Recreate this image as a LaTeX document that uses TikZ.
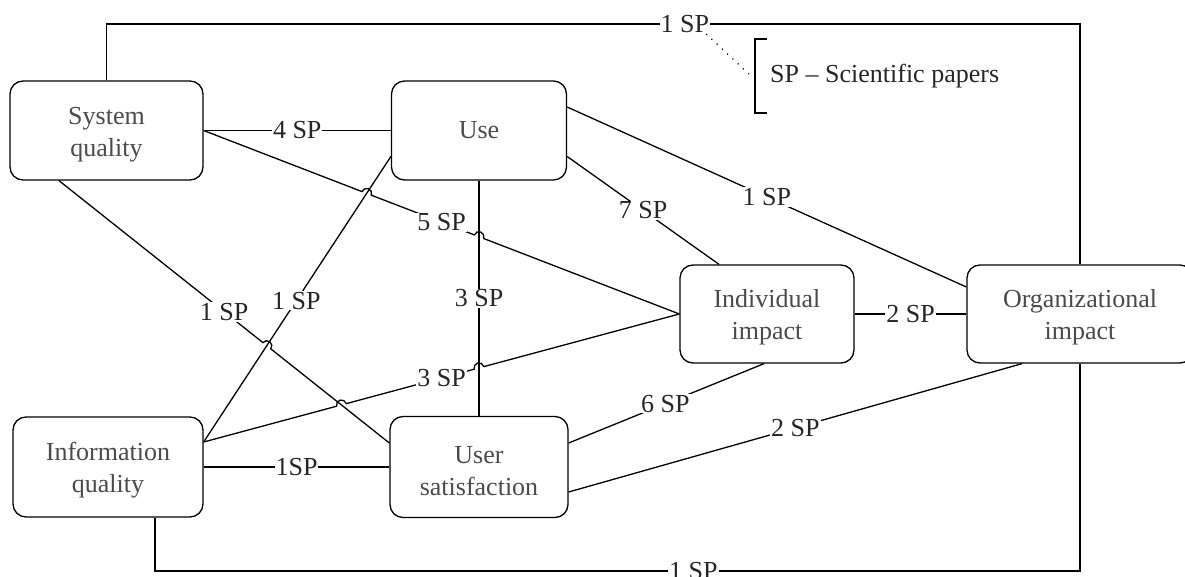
\documentclass[tikz,border=0pt]{standalone}
\usepackage{fontspec}
\setmainfont{Liberation Serif}
\usetikzlibrary{calc}
\definecolor{boxtext}{HTML}{4A4A4A}
\definecolor{lbltext}{HTML}{262626}
\newcommand\hopr{5pt}
% raises the first line's height so two-line captions sit a little lower
\newcommand\toppad{\rule{0pt}{25pt}}
\begin{document}
\begin{tikzpicture}[x=1pt,y=-1pt,
  box/.style={draw, line width=1.3pt, rounded corners=13pt, align=center,
    text=boxtext, inner sep=0pt, font=\fontsize{26}{32}\selectfont},
  lbl/.style={fill=white, inner sep=1pt, text=lbltext,
    font=\fontsize{26}{31}\selectfont},
  conn/.style={line width=1.3pt},
]
\useasboundingbox (0,0) rectangle (1185,577);

% factors
\node[box, minimum width=193pt, minimum height=99pt]  (sq)  at (106.5,130.5) {\toppad System\\quality};
\node[box, minimum width=175pt, minimum height=99pt]  (use) at (479,130.5)   {Use};
\node[box, minimum width=190pt, minimum height=100pt] (iq)  at (108,467)     {\toppad Information\\quality};
\node[box, minimum width=178pt, minimum height=101pt] (us)  at (479,467)     {\toppad User\\satisfaction};
\node[box, minimum width=174pt, minimum height=98pt]  (ii)  at (767,314)     {\toppad Individual\\impact};
\node[box, minimum width=226pt, minimum height=98pt]  (oi)  at (1080,314)    {\toppad Organizational\\impact};

% connector end points
\coordinate (e2a) at (sq.east);
\coordinate (e2b) at (ii.west);
\coordinate (e3a) at ([xshift=-47.5pt]sq.south);
\coordinate (e3b) at ([yshift=24pt]us.west);
\coordinate (e4a) at ([yshift=25pt]iq.east);
\coordinate (e4b) at ([yshift=-26pt]use.west);
\coordinate (e5a) at ([yshift=25pt]iq.east);
\coordinate (e5b) at (ii.west);
\coordinate (e7a) at (use.south);
\coordinate (e7b) at (us.north);
\coordinate (e8a) at ([yshift=-26pt]use.east);
\coordinate (e8b) at ([xshift=-48pt]ii.north);
\coordinate (e9a) at ([yshift=23.5pt]use.east);
\coordinate (e9b) at ([yshift=27pt]oi.west);
\coordinate (e11a) at ([yshift=24pt]us.east);
\coordinate (e11b) at ([xshift=-3pt]ii.south);
\coordinate (e12a) at ([yshift=-25pt]us.east);
\coordinate (e12b) at ([xshift=-58pt]oi.south);
\coordinate (topline) at (0,24);
\coordinate (botline) at (0,571);
\coordinate (iqs) at ([xshift=47pt]iq.south);

% crossings where a line hops over another
\coordinate (x24) at (intersection of e2a--e2b and e4a--e4b);
\coordinate (x27) at (intersection of e2a--e2b and e7a--e7b);
\coordinate (x34) at (intersection of e3a--e3b and e4a--e4b);
\coordinate (x35) at (intersection of e5a--e5b and e3a--e3b);
\coordinate (x57) at (intersection of e5a--e5b and e7a--e7b);

% straight connectors
\draw[conn] (sq.east) -- (use.west);
\draw[conn] (iq.east) -- (us.west);
\draw[conn] (ii.east) -- (oi.west);
\draw[conn] (e4a) -- (e4b);
\draw[conn] (e7a) -- (e7b);
\draw[conn] (e8a) -- (e8b);
\draw[conn] (e9a) -- (e9b);
\draw[conn] (e11a) -- (e11b);
\draw[conn] (e12a) -- (e12b);
\draw[conn] (sq.north) -- (sq.north |- topline) -- (oi.north |- topline) -- (oi.north);
\draw[conn] (iqs) -- (iqs |- botline) -- (oi.south |- botline) -- (oi.south);

% connectors with hops
\draw[conn] let \p1=($(e2b)-(e2a)$), \n1={atan2(\y1,\x1)} in
  (e2a) -- ($(x24)!\hopr!(e2a)$) arc[start angle=\n1+180, end angle=\n1, radius=\hopr]
  -- ($(x27)!\hopr!(e2a)$) arc[start angle=\n1+180, end angle=\n1, radius=\hopr]
  -- (e2b);
\draw[conn] let \p1=($(e3b)-(e3a)$), \n1={atan2(\y1,\x1)} in
  (e3a) -- ($(x34)!\hopr!(e3a)$) arc[start angle=\n1+180, end angle=\n1, radius=\hopr]
  -- (e3b);
\draw[conn] let \p1=($(e5b)-(e5a)$), \n1={atan2(\y1,\x1)} in
  (e5a) -- ($(x35)!\hopr!(e5a)$) arc[start angle=\n1+180, end angle=\n1, radius=\hopr]
  -- ($(x57)!\hopr!(e5a)$) arc[start angle=\n1+180, end angle=\n1, radius=\hopr]
  -- (e5b);

% counts of papers
\node[lbl] at ($(sq.east)!0.5!(use.west)$) {4 SP};
\node[lbl] at ($(iq.east)!0.5!(us.west)$) {1SP};
\node[lbl] at ($(ii.east)!0.5!(oi.west)$) {2 SP};
\node[lbl] at ($(e2a)!0.5!(e2b)$) {5 SP};
\node[lbl] at ($(e3a)!0.5!(e3b)$) {1 SP};
\node[lbl] at ($(e4a)!0.495!(e4b)$) {1 SP};
\node[lbl] at ($(e5a)!0.5!(e5b)$) {3 SP};
\node[lbl] at ($(e7a)!0.5!(e7b)$) {3 SP};
\node[lbl] at ($(e8a)!0.5!(e8b)$) {7 SP};
\node[lbl] at ($(e9a)!0.5!(e9b)$) {1 SP};
\node[lbl] at ($(e11a)!0.495!(e11b)$) {6 SP};
\node[lbl] at ($(e12a)!0.5!(e12b)$) {2 SP};
\node[lbl] (topsp) at ($(sq.north |- topline)!0.594!(oi.north |- topline)$) {1 SP};
\node[lbl] at ($(iqs |- botline)!0.582!(oi.south |- botline)$) {1 SP};

% legend
\node[anchor=west, inner sep=0pt, text=lbltext, font=\fontsize{26}{31}\selectfont]
  (legend) at (770,76) {SP -- Scientific papers};
\coordinate (br) at ([xshift=-15pt]legend.west);
\draw[conn] ([xshift=12pt,yshift=37pt]br) -- ([yshift=37pt]br) -- ([yshift=-37pt]br) -- ([xshift=12pt,yshift=-37pt]br);
\draw[line width=1.2pt, dash pattern=on 1.2pt off 6pt] ($(topsp.south east)+(-4,0)$) -- ([xshift=-4pt]br);
\end{tikzpicture}
\end{document}
